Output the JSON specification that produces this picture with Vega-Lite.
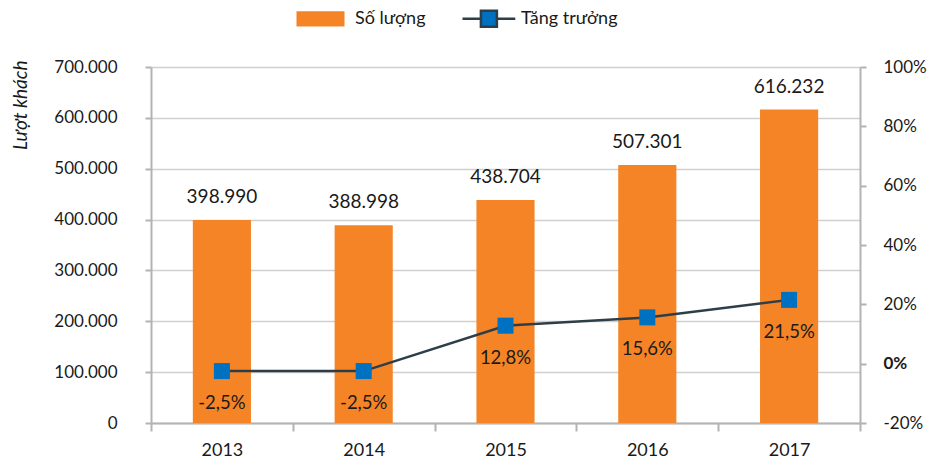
{
  "$schema": "https://vega.github.io/schema/vega-lite/v6.json",
  "width": 709,
  "height": 356,
  "autosize": {"type": "none"},
  "padding": {"left": 151, "top": 67, "right": 77, "bottom": 39},
  "data": {
    "values": [
      {"year": "2013", "visitors": 398990, "growth": -0.025},
      {"year": "2014", "visitors": 388998, "growth": -0.025},
      {"year": "2015", "visitors": 438704, "growth": 0.128},
      {"year": "2016", "visitors": 507301, "growth": 0.156},
      {"year": "2017", "visitors": 616232, "growth": 0.215}
    ]
  },
  "encoding": {
    "x": {
      "field": "year",
      "type": "ordinal",
      "scale": {"paddingInner": 0, "paddingOuter": 0},
      "axis": {
        "title": null,
        "labelAngle": 0,
        "tickBand": "extent",
        "tickSize": 8,
        "labelPadding": 10,
        "labelFontSize": 18,
        "grid": false
      }
    }
  },
  "layer": [
    {
      "layer": [
        {
          "mark": {"type": "bar", "width": {"band": 0.41}},
          "encoding": {
            "y": {
              "field": "visitors",
              "type": "quantitative",
              "scale": {"domain": [0, 700000]},
              "axis": {
                "title": "Lượt khách",
                "format": ",.0f",
                "values": [0, 100000, 200000, 300000, 400000, 500000, 600000, 700000],
                "grid": true,
                "tickSize": 6,
                "labelPadding": 28,
                "titleFontStyle": "italic",
                "titleFontWeight": "normal",
                "titleFontSize": 19,
                "titleAngle": -90,
                "titleX": -131,
                "titleY": -7,
                "titleAlign": "right",
                "titleBaseline": "middle",
                "titleColor": "#1a1a1a"
              }
            },
            "color": {
              "datum": "Số lượng",
              "type": "nominal",
              "scale": {"domain": ["Số lượng", "Tăng trưởng"], "range": ["#F58426", "#0070C0"]},
              "legend": {
                "title": null,
                "orient": "none",
                "direction": "horizontal",
                "legendX": 144,
                "legendY": -58,
                "padding": 0,
                "symbolSize": 256,
                "labelOffset": 41,
                "labelFontSize": 18,
                "labelColor": "#1a1a1a",
                "columnPadding": 31,
                "encode": {
                  "symbols": {
                    "update": {
                      "shape": {"signal": "datum.value === 'Số lượng' ? 'M-1,-0.95H5V0.95H-1Z' : 'M-1,0H1.3M3.3,0H5.6M1.3,-1H3.3V1H1.3Z'"},
                      "stroke": {"signal": "datum.value === 'Số lượng' ? 'transparent' : '#2E3E48'"},
                      "strokeWidth": {"value": 2.5},
                      "opacity": {"value": 1},
                      "fillOpacity": {"value": 1}
                    }
                  }
                }
              }
            }
          }
        },
        {
          "mark": {"type": "text", "dy": -23, "baseline": "middle", "fontSize": 19, "color": "#1a1a1a"},
          "encoding": {
            "y": {"field": "visitors", "type": "quantitative"},
            "text": {"field": "visitors", "type": "quantitative", "format": ",.0f"}
          }
        }
      ]
    },
    {
      "layer": [
        {
          "mark": {"type": "line", "color": "#2E3E48", "strokeWidth": 2.5},
          "encoding": {
            "y": {
              "field": "growth",
              "type": "quantitative",
              "scale": {"domain": [-0.2, 1.0]},
              "axis": {
                "title": null,
                "orient": "right",
                "format": ".0%",
                "values": [-0.2, 0, 0.2, 0.4, 0.6, 0.8, 1.0],
                "grid": false,
                "tickSize": 6,
                "labelPadding": 17,
                "labelFontWeight": {"condition": {"test": "abs(datum.value) < 0.0001", "value": "bold"}, "value": "normal"}
              }
            }
          }
        },
        {
          "mark": {"type": "point", "shape": "square", "filled": true, "size": 256, "opacity": 1},
          "encoding": {
            "y": {"field": "growth", "type": "quantitative"},
            "color": {"datum": "Tăng trưởng", "type": "nominal"}
          }
        },
        {
          "mark": {"type": "text", "dy": 32, "baseline": "middle", "fontSize": 18.5, "color": "#1a1a1a"},
          "encoding": {
            "y": {"field": "growth", "type": "quantitative"},
            "text": {"field": "growth", "type": "quantitative", "format": ".1%"}
          }
        }
      ]
    }
  ],
  "resolve": {"scale": {"y": "independent"}},
  "config": {
    "font": "Lato",
    "view": {"stroke": null},
    "locale": {
      "number": {"decimal": ",", "thousands": ".", "grouping": [3], "currency": ["", " ₫"], "minus": "-"}
    },
    "axis": {
      "domainColor": "#b3b3b3",
      "domainWidth": 2,
      "tickColor": "#b3b3b3",
      "tickWidth": 2,
      "gridColor": "#d0d0d0",
      "gridWidth": 1.5,
      "labelFont": "Lato",
      "labelFontSize": 17,
      "labelColor": "#1a1a1a",
      "titleFont": "Lato"
    },
    "legend": {"labelFont": "Lato"}
  }
}
